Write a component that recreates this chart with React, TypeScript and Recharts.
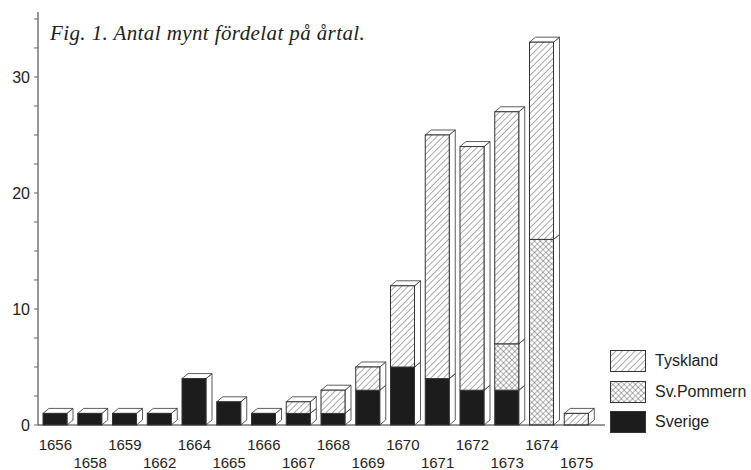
import { Bar, BarChart, XAxis, YAxis } from 'recharts';

// coin counts per year, stacked by origin
const years = ['1656', '1658', '1659', '1662', '1664', '1665', '1666', '1667', '1668', '1669', '1670', '1671', '1672', '1673', '1674', '1675'];
const sverige = [1, 1, 1, 1, 4, 2, 1, 1, 1, 3, 5, 4, 3, 3, 0, 0];
const pommern = [0, 0, 0, 0, 0, 0, 0, 0, 0, 0, 0, 0, 0, 4, 16, 0];
const tyskland = [0, 0, 0, 0, 0, 0, 0, 1, 2, 2, 7, 21, 21, 20, 17, 1];

const yTicks = [0, 2.5, 5, 7.5, 10, 12.5, 15, 17.5, 20, 22.5, 25, 27.5, 30, 32.5, 35];
const yLabels = [0, 10, 20, 30];

const series = [
  { key: 'sverige', name: 'Sverige', fill: '#1c1c1c' },
  { key: 'pommern', name: 'Sv.Pommern', fill: 'url(#crossHatch)' },
  { key: 'tyskland', name: 'Tyskland', fill: 'url(#diagHatch)' },
];

const data = years.map((year, i) => ({
  year,
  sverige: sverige[i],
  pommern: pommern[i],
  tyskland: tyskland[i],
}));

const DX = 6;
const DY = 5;
const INK = '#333';
const SANS = "'Liberation Sans', Arial, sans-serif";

function Bar3D(props: any) {
  const { x, y, width, height, fill } = props;
  if (!height || height <= 0) return null;
  const top = `M${x},${y} L${x + DX},${y - DY} L${x + width + DX},${y - DY} L${x + width},${y} Z`;
  const side = `M${x + width},${y} L${x + width + DX},${y - DY} L${x + width + DX},${y + height - DY} L${x + width},${y + height} Z`;
  return (
    <g>
      <path d={side} fill="#fff" stroke={INK} strokeWidth={0.8} />
      <path d={top} fill="#fff" stroke={INK} strokeWidth={0.8} />
      <rect x={x} y={y} width={width} height={height} fill={fill} stroke={INK} strokeWidth={1} />
    </g>
  );
}

function YearTick({ x, y, payload, index }: any) {
  const dy = index % 2 === 0 ? 25 : 43;
  return (
    <text x={x} y={y + dy} textAnchor="middle" fontSize={15} fill="#222" fontFamily={SANS}>
      {payload.value}
    </text>
  );
}

function CountTick({ x, y, payload }: any) {
  if (!yLabels.includes(payload.value)) return null;
  return (
    <text x={x} y={y} dy="0.35em" textAnchor="end" fontSize={16} fill="#222" fontFamily={SANS}>
      {payload.value}
    </text>
  );
}

function LegendBox() {
  return (
    <div style={{ position: 'absolute', left: 610, top: 346, fontFamily: SANS, fontSize: 16, color: '#222' }}>
      {[...series].reverse().map((s) => (
        <div key={s.key} style={{ display: 'flex', alignItems: 'center', height: 30.5 }}>
          <svg width={36} height={22} style={{ marginRight: 9 }}>
            <rect x={0.5} y={0.5} width={35} height={21} fill={s.fill} stroke={INK} />
          </svg>
          <span>{s.name}</span>
        </div>
      ))}
    </div>
  );
}

export default function App() {
  return (
    <div style={{ position: 'absolute', left: 0, top: 0, width: 751, height: 470, background: '#fff' }}>
      <BarChart width={751} height={470} data={data} margin={{ top: 12, right: 146, bottom: 0, left: 0 }} barSize={24}>
        <defs>
          <pattern id="diagHatch" patternUnits="userSpaceOnUse" width={4.5} height={4.5} patternTransform="rotate(45)">
            <rect width={4.5} height={4.5} fill="#fff" />
            <line x1={0} y1={0} x2={0} y2={4.5} stroke="#555" strokeWidth={1} />
          </pattern>
          <pattern id="crossHatch" patternUnits="userSpaceOnUse" width={4} height={4} patternTransform="rotate(45)">
            <rect width={4} height={4} fill="#fff" />
            <line x1={0} y1={0} x2={0} y2={4} stroke="#555" strokeWidth={0.9} />
            <line x1={0} y1={0} x2={4} y2={0} stroke="#555" strokeWidth={0.9} />
          </pattern>
        </defs>
        <XAxis
          dataKey="year"
          height={45}
          padding={{ left: 0, right: 11 }}
          interval={0}
          tick={<YearTick />}
          tickLine={false}
          tickSize={0}
          tickMargin={0}
          axisLine={{ stroke: INK }}
        />
        <XAxis xAxisId="top" dataKey="year" orientation="top" height={0} tick={false} tickLine={false} axisLine={{ stroke: '#777' }} />
        <YAxis
          width={38}
          domain={[0, 35.6]}
          ticks={yTicks}
          interval={0}
          tick={<CountTick />}
          tickSize={4}
          tickMargin={4}
          tickLine={{ stroke: '#666' }}
          axisLine={{ stroke: INK }}
        />
        <YAxis yAxisId="right" orientation="right" width={0} domain={[0, 1]} tick={false} tickLine={false} axisLine={{ stroke: '#777' }} />
        {series.map((s) => (
          <Bar key={s.key} dataKey={s.key} name={s.name} stackId="a" fill={s.fill} shape={<Bar3D />} isAnimationActive={false} />
        ))}
      </BarChart>
      <LegendBox />
      <div
        style={{
          position: 'absolute',
          left: 50,
          top: 23,
          fontFamily: "'Liberation Serif', 'Times New Roman', serif",
          fontStyle: 'italic',
          fontSize: 21,
          letterSpacing: 0.4,
          lineHeight: '20px',
          color: '#222',
        }}
      >
        Fig. 1. Antal mynt fördelat på årtal.
      </div>
    </div>
  );
}
